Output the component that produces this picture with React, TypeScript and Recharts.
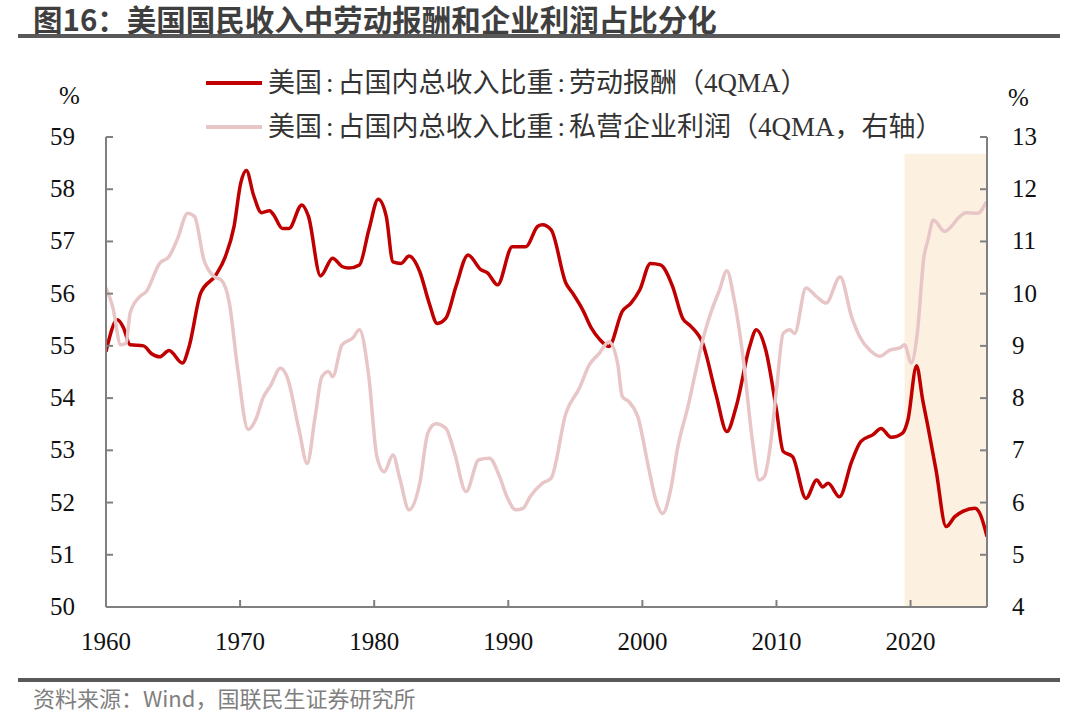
import React from 'react';
import {
  LineChart,
  Line,
  XAxis,
  YAxis,
  ReferenceArea,
} from 'recharts';

// 劳动报酬占比（左轴，%）
const LABOR_YEARS = [
  1960.0, 1960.85, 1961.3, 1961.8, 1962.8, 1963.4, 1964.0, 1964.7, 1965.7, 1966.2,
  1967.06, 1968.2, 1968.9, 1969.55, 1970.05, 1970.47, 1971.0, 1971.6, 1972.2, 1972.5,
  1973.15, 1973.65, 1974.6, 1975.1, 1976.0, 1976.9, 1977.6, 1978.1, 1978.9, 1979.6,
  1980.3, 1980.9, 1981.4, 1982.0, 1982.6, 1983.4, 1984.1, 1984.7, 1985.35, 1986.1,
  1987.0, 1987.95, 1988.45, 1989.2, 1990.3, 1991.3, 1992.2, 1992.55, 1993.2, 1994.3,
  1994.8, 1995.55, 1996.2, 1996.8, 1997.5, 1998.5, 1999.15, 1999.8, 2000.6, 2001.35,
  2002.25, 2003.0, 2003.6, 2004.5, 2005.5, 2006.3, 2007.0, 2008.0, 2008.5, 2009.2,
  2010.0, 2010.5, 2011.2, 2012.2, 2013.0, 2013.45, 2013.85, 2014.7, 2015.6, 2016.3,
  2017.2, 2017.8, 2018.55, 2019.4, 2019.8, 2020.45, 2020.9, 2021.3, 2021.9, 2022.65,
  2023.3, 2023.9, 2024.8, 2025.15, 2025.7,
];
const LABOR_SHARE = [
  54.89, 55.5, 55.35, 55.02, 55.0, 54.85, 54.79, 54.91, 54.67, 54.99,
  56.01, 56.36, 56.71, 57.29, 58.12, 58.36, 57.89, 57.55, 57.59, 57.51,
  57.25, 57.25, 57.7, 57.48, 56.34, 56.68, 56.52, 56.49, 56.55, 57.22,
  57.81, 57.48, 56.61, 56.58, 56.72, 56.42, 55.82, 55.43, 55.53, 56.14,
  56.74, 56.46, 56.4, 56.17, 56.9, 56.9, 57.29, 57.32, 57.22, 56.2,
  56.01, 55.69, 55.34, 55.13, 54.99, 55.66, 55.82, 56.07, 56.58, 56.55,
  56.14, 55.53, 55.38, 55.05, 54.06, 53.36, 53.84, 54.99, 55.31, 54.92,
  53.77, 52.98, 52.88, 52.08, 52.43, 52.3, 52.37, 52.11, 52.78, 53.17,
  53.3, 53.42, 53.25, 53.33, 53.58, 54.62, 53.97, 53.45, 52.62, 51.54,
  51.73, 51.83, 51.89, 51.8, 51.35,
];

// 私营企业利润占比（右轴，%）
const PROFIT_YEARS = [
  1960.0, 1960.5, 1961.1, 1961.5, 1961.8, 1962.5, 1963.0, 1964.0, 1964.7, 1965.3,
  1966.1, 1966.6, 1967.3, 1968.05, 1968.6, 1969.2, 1969.8, 1970.6, 1971.2, 1971.7,
  1972.3, 1973.0, 1973.5, 1974.4, 1975.0, 1975.6, 1976.1, 1976.6, 1976.9, 1977.6,
  1978.4, 1978.9, 1979.6, 1980.2, 1980.75, 1981.4, 1981.9, 1982.6, 1983.4, 1984.0,
  1984.6, 1985.35, 1986.0, 1986.85, 1987.8, 1988.6, 1989.3, 1989.95, 1990.55, 1991.1,
  1991.6, 1992.55, 1993.2, 1994.3, 1995.3, 1996.05, 1996.8, 1997.5, 1998.15, 1998.5,
  1999.0, 1999.65, 2000.5, 2001.0, 2001.5, 2002.15, 2002.6, 2003.4, 2004.0, 2004.5,
  2005.1, 2005.75, 2006.3, 2006.85, 2007.5, 2008.2, 2008.7, 2009.1, 2009.5, 2010.0,
  2010.5, 2011.0, 2011.35, 2012.2, 2013.0, 2013.7, 2014.75, 2015.6, 2016.2, 2016.95,
  2017.7, 2018.45, 2019.2, 2019.55, 2020.05, 2020.5, 2021.0, 2021.3, 2021.7, 2022.55,
  2023.05, 2023.55, 2024.15, 2025.0, 2025.65,
];
const PROFIT_SHARE = [
  10.11, 9.75, 9.02, 9.05, 9.63, 9.94, 10.04, 10.58, 10.71, 11.03,
  11.54, 11.48, 10.65, 10.33, 10.26, 9.82, 8.6, 7.4, 7.61, 8.0,
  8.25, 8.57, 8.41, 7.39, 6.75, 7.65, 8.41, 8.51, 8.41, 9.02,
  9.15, 9.31, 8.41, 6.88, 6.59, 6.91, 6.47, 5.86, 6.37, 7.33,
  7.51, 7.42, 6.94, 6.21, 6.82, 6.85, 6.53, 6.08, 5.86, 5.89,
  6.1, 6.37, 6.47, 7.71, 8.19, 8.64, 8.86, 9.08, 8.67, 8.03,
  7.93, 7.65, 6.62, 6.05, 5.79, 6.3, 7.01, 7.84, 8.54, 9.11,
  9.63, 10.07, 10.44, 9.88, 8.8, 7.2, 6.43, 6.5, 7.01, 8.16,
  9.24, 9.31, 9.24, 10.11, 9.94, 9.82, 10.32, 9.56, 9.18, 8.92,
  8.8, 8.92, 8.96, 9.02, 8.67, 9.24, 10.71, 11.03, 11.41, 11.19,
  11.29, 11.45, 11.55, 11.54, 11.76,
];

const X_TICKS = [1960, 1970, 1980, 1990, 2000, 2010, 2020];
const LEFT_TICKS = [50, 51, 52, 53, 54, 55, 56, 57, 58, 59];
const RIGHT_TICKS = [4, 5, 6, 7, 8, 9, 10, 11, 12, 13];
const SHADE_START = 2019.55;
const SHADE_END = 2025.7;

const LABOR_NAME = '美国:占国内总收入比重:劳动报酬（4QMA）';
const PROFIT_NAME = '美国:占国内总收入比重:私营企业利润（4QMA，右轴）';

const LABOR_COLOR = '#C00000';
const PROFIT_COLOR = '#E8C6C7';

const chartData = [
  ...LABOR_YEARS.map((year, i) => ({ year, labor: LABOR_SHARE[i] })),
  ...PROFIT_YEARS.map((year, i) => ({ year, profit: PROFIT_SHARE[i] })),
].sort((a, b) => a.year - b.year);

const serif = "'Liberation Serif', 'Times New Roman', 'Noto Sans CJK SC', serif";

// svg tick text, so the serif font is actually applied
function AxisTick(props: any) {
  const { x, y, payload, textAnchor, dy } = props;
  return (
    <text
      x={x}
      y={y}
      dy={dy}
      textAnchor={textAnchor}
      fontFamily={serif}
      fontSize={25}
      fill="#111"
    >
      {payload.value}
    </text>
  );
}

const XTick = (props: any) => <AxisTick {...props} textAnchor="middle" dy={18} />;
const LeftTick = (props: any) => <AxisTick {...props} textAnchor="end" dy={8} />;
const RightTick = (props: any) => <AxisTick {...props} textAnchor="start" dy={8} />;

// the legend colons are wider in the original font
function LegendText({ text }: { text: string }) {
  const parts = text.split(':');
  return (
    <>
      {parts.map((p, i) => (
        <React.Fragment key={i}>
          {i > 0 && <span style={{ padding: '0 4px' }}>:</span>}
          {p}
        </React.Fragment>
      ))}
    </>
  );
}

export default function App() {
  return (
    <div
      style={{
        position: 'absolute',
        top: 0,
        left: 0,
        width: 1080,
        height: 712,
        background: '#fff',
        overflow: 'hidden',
      }}
    >
      <div
        style={{
          position: 'absolute',
          left: 33,
          top: 4,
          fontSize: 29.5,
          fontWeight: 700,
          color: '#3f3f3f',
          fontFamily: "'Noto Sans CJK SC', sans-serif",
          whiteSpace: 'nowrap',
          lineHeight: '28px',
        }}
      >
        图16：美国国民收入中劳动报酬和企业利润占比分化
      </div>
      <div style={{ position: 'absolute', left: 18, top: 34, width: 1042, height: 4, background: '#595959' }} />

      {/* legend */}
      {[
        { name: LABOR_NAME, color: LABOR_COLOR, top: 83 },
        { name: PROFIT_NAME, color: PROFIT_COLOR, top: 127 },
      ].map((item) => (
        <div key={item.name}>
          <div
            style={{
              position: 'absolute',
              left: 206,
              top: item.top - 2,
              width: 56,
              height: 4,
              background: item.color,
            }}
          />
          <div
            style={{
              position: 'absolute',
              left: 268,
              top: item.top - 18,
              fontSize: 27,
              lineHeight: '36px',
              color: '#333',
              fontFamily: serif,
              whiteSpace: 'nowrap',
            }}
          >
            <LegendText text={item.name} />
          </div>
        </div>
      ))}

      <div style={{ position: 'absolute', left: 59, top: 82, fontSize: 25, fontFamily: serif, color: '#111' }}>%</div>
      <div style={{ position: 'absolute', left: 1008, top: 84, fontSize: 25, fontFamily: serif, color: '#111' }}>%</div>

      <div style={{ position: 'absolute', left: 0, top: 0 }}>
        <LineChart
          width={1080}
          height={712}
          data={chartData}
          margin={{ top: 137, right: 33, left: 46, bottom: 65 }}
        >
          <ReferenceArea
            yAxisId="left"
            x1={SHADE_START}
            x2={SHADE_END}
            y1={50}
            y2={58.68}
            fill="#FCF1E1"
            fillOpacity={1}
            stroke="none"
          />
          <XAxis
            dataKey="year"
            type="number"
            domain={[1960, SHADE_END]}
            ticks={X_TICKS}
            allowDataOverflow
            height={40}
            stroke="#808080"
            strokeWidth={2}
            tickSize={-7}
            tickMargin={32}
            tick={XTick}
            interval={0}
          />
          <YAxis
            yAxisId="left"
            domain={[50, 59]}
            ticks={LEFT_TICKS}
            width={60}
            stroke="#808080"
            strokeWidth={2}
            tickSize={-7}
            tickMargin={38}
            tick={LeftTick}
            interval={0}
          />
          <YAxis
            yAxisId="right"
            orientation="right"
            domain={[4, 13]}
            ticks={RIGHT_TICKS}
            width={60}
            stroke="#808080"
            strokeWidth={2}
            tickSize={-7}
            tickMargin={32}
            tick={RightTick}
            interval={0}
          />
          <Line
            yAxisId="left"
            type="monotone"
            dataKey="labor"
            stroke={LABOR_COLOR}
            strokeWidth={3.5}
            dot={false}
            connectNulls
            isAnimationActive={false}
          />
          <Line
            yAxisId="right"
            type="monotone"
            dataKey="profit"
            stroke={PROFIT_COLOR}
            strokeWidth={3.5}
            dot={false}
            connectNulls
            isAnimationActive={false}
          />
        </LineChart>
      </div>

      <div style={{ position: 'absolute', left: 18, top: 678, width: 1042, height: 4, background: '#595959' }} />
      <div
        style={{
          position: 'absolute',
          left: 33,
          top: 684,
          fontSize: 22,
          lineHeight: '26px',
          color: '#7f7f7f',
          fontFamily: "'Noto Sans CJK SC', sans-serif",
          whiteSpace: 'nowrap',
        }}
      >
        资料来源：Wind，国联民生证券研究所
      </div>
    </div>
  );
}
